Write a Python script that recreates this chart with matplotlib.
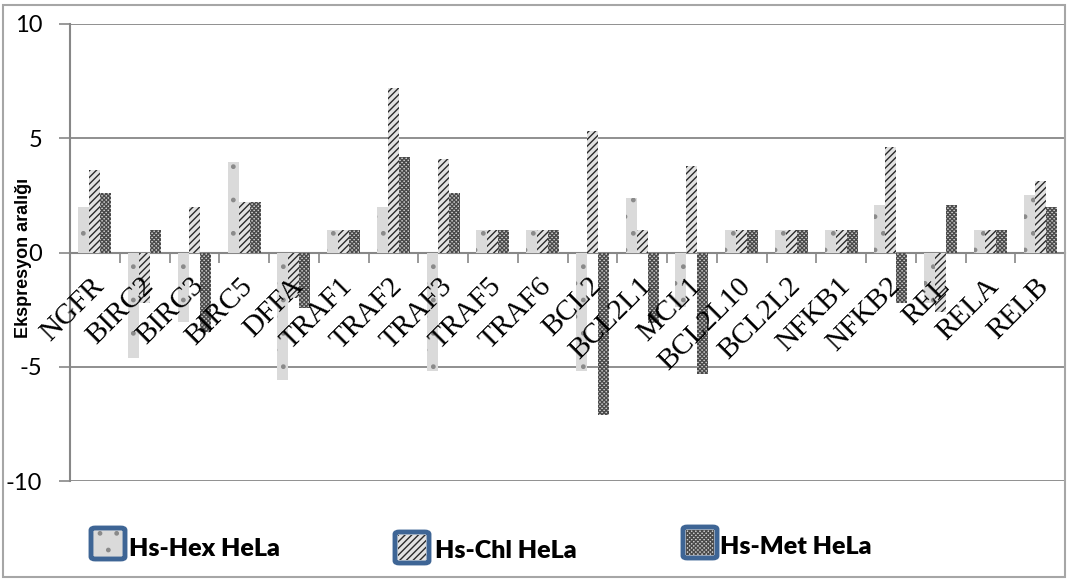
import numpy as np
import matplotlib.pyplot as plt
from matplotlib.patches import FancyBboxPatch, Rectangle

# data
genes = ["NGFR", "BIRC2", "BIRC3", "BIRC5", "DFFA", "TRAF1", "TRAF2", "TRAF3",
         "TRAF5", "TRAF6", "BCL2", "BCL2L1", "MCL1", "BCL2L10", "BCL2L2",
         "NFKB1", "NFKB2", "REL", "RELA", "RELB"]
series = ["Hs-Hex HeLa", "Hs-Chl HeLa", "Hs-Met HeLa"]
hex_vals = [2.0, -4.6, -3.05, 3.95, -5.6, 1.0, 2.0, -5.2, 1.0, 1.0,
            -5.2, 2.4, -2.4, 1.0, 1.0, 1.0, 2.1, -2.2, 1.0, 2.5]
chl_vals = [3.6, -2.2, 2.0, 2.2, -2.0, 1.0, 7.2, 4.1, 1.0, 1.0,
            5.3, 1.0, 3.8, 1.0, 1.0, 1.0, 4.6, -2.6, 1.0, 3.15]
met_vals = [2.6, 1.0, -3.5, 2.2, -2.45, 1.0, 4.2, 2.6, 1.0, 1.0,
            -7.1, -3.1, -5.3, 1.0, 1.0, 1.0, -2.2, 2.1, 1.0, 2.0]
yticks = [-10, -5, 0, 5, 10]

# stil: (yüz rengi, tarama, tarama rengi)
styles = [("#dadada", ".", "#8a8a8a"),
          ("#e2e2e2", "/////", "#2a2a2a"),
          ("#d0d0d0", "xxxxxxxx", "#4a4a4a")]

plt.rcParams["hatch.linewidth"] = 1.0
grid_col = "#878787"

fig = plt.figure(figsize=(10.67, 5.8), dpi=100)
ax = fig.add_axes([70 / 1067, 1 - 481 / 580, 995 / 1067, 457 / 580])

x = np.arange(len(genes))
w = 0.22
for k, vals in enumerate([hex_vals, chl_vals, met_vals]):
    fc, hatch, hc = styles[k]
    ax.bar(x + (k - 1) * w, vals, width=w, color=fc, hatch=hatch,
           edgecolor=hc, linewidth=0, zorder=3)

ax.set_xlim(-0.5, len(genes) - 0.5)
ax.set_ylim(-10, 10)
ax.set_yticks(yticks)
ax.set_yticklabels([str(v) for v in yticks], fontsize=17, family="Lato")
ax.tick_params(axis="y", length=8, width=1.2, color=grid_col, pad=12)
for v in yticks:
    if v != 0:
        ax.axhline(v, color=grid_col, lw=1.3, zorder=1)

# kategori ekseni sıfırda
ax.spines["bottom"].set_position(("data", 0))
ax.spines["bottom"].set_color(grid_col)
ax.spines["bottom"].set_linewidth(1.5)
ax.spines["left"].set_color(grid_col)
ax.spines["left"].set_linewidth(1.5)
ax.spines["top"].set_visible(False)
ax.spines["right"].set_visible(False)
ax.set_xticks(np.arange(len(genes) + 1) - 0.5)
ax.set_xticklabels([])
ax.tick_params(axis="x", length=7, width=1.2, color=grid_col, direction="out")

for i, g in enumerate(genes):
    ax.text(i + 0.1, -1.3, g, rotation=45, ha="right", va="center",
            rotation_mode="anchor", fontsize=21, family="Liberation Serif",
            zorder=4)

fig.text(24 / 1067, 1 - 258 / 580, "Ekspresyon aralığı", rotation=90,
         ha="center", va="center", fontsize=13, fontweight="bold",
         family="Liberation Sans")

# lejant
leg_pos = [(91, 528, 129, 549), (395, 532, 435, 551), (683, 527, 720, 547)]
for k, name in enumerate(series):
    px, py, tx, ty = leg_pos[k]
    fc, hatch, hc = styles[k]
    box = FancyBboxPatch((px / 1067, 1 - (py + 31) / 580), 34 / 1067, 31 / 580,
                         boxstyle="round,pad=0,rounding_size=0.004",
                         transform=fig.transFigure, facecolor=fc,
                         edgecolor="#3e6595", linewidth=3.5)
    fig.patches.append(box)
    inner = Rectangle(((px + 3) / 1067, 1 - (py + 28) / 580), 28 / 1067, 25 / 580,
                      transform=fig.transFigure, facecolor=fc, hatch=hatch,
                      edgecolor=hc, linewidth=0)
    fig.patches.append(inner)
    fig.text(tx / 1067, 1 - ty / 580, name, ha="left", va="center",
             fontsize=18, fontweight="heavy", family="Lato")

# dış çerçeve
fig.patches.append(Rectangle((3 / 1067, 3 / 580), 1062 / 1067, 572 / 580,
                             transform=fig.transFigure, fill=False,
                             edgecolor="#a6a6a6", linewidth=1.5))

fig.savefig("out.png", dpi=100)
